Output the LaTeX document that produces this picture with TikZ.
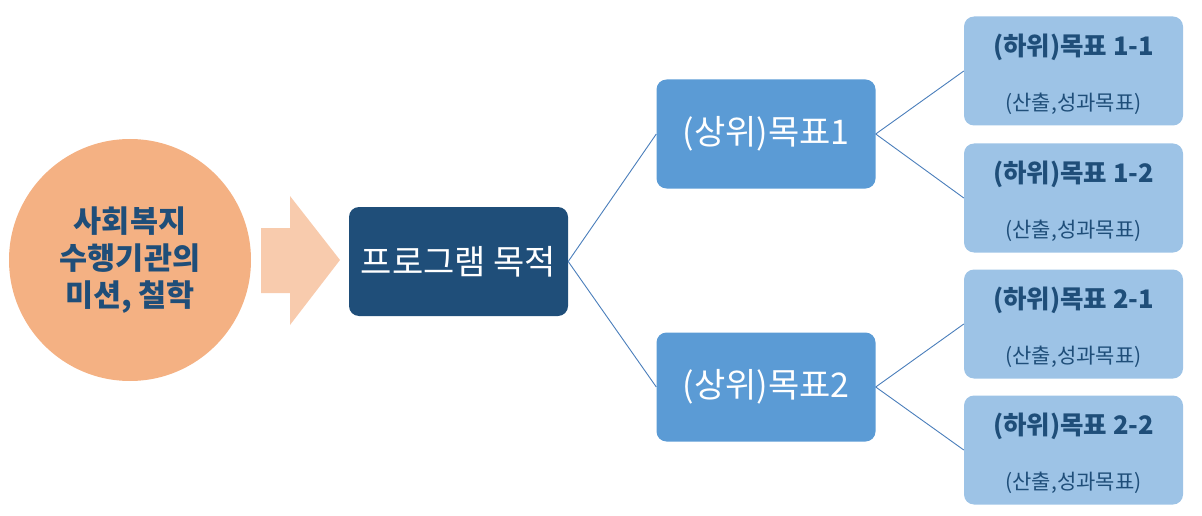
\documentclass[tikz,border=0pt]{standalone}
\usepackage{fontspec}
\setmainfont{Noto Sans CJK KR}
\definecolor{arancio}{HTML}{F4B183}
\definecolor{freccia}{HTML}{F8CBAD}
\definecolor{blu}{HTML}{1F4E79}
\definecolor{azzurro}{HTML}{5B9BD5}
\definecolor{celeste}{HTML}{9DC3E6}
\definecolor{filo}{HTML}{4A7EBB}
\tikzset{
  scatola/.style={rounded corners=10pt, minimum width=219pt, minimum height=109pt, inner sep=0pt},
  linea/.style={draw=filo, line width=0.9pt}
}
\begin{document}
\begin{tikzpicture}[x=1pt,y=-1pt]
    \useasboundingbox (0,0) rectangle (1202,516);
    %cerchio della missione
    \node[circle, fill=arancio, minimum size=242pt, inner sep=0pt, align=center,
          text=blu, font=\bfseries\fontsize{30.5}{37}\selectfont] (missione) at (130,260)
          {사회복지\\수행기관의\\미션, 철학};
    %freccia larga
    \fill[freccia] (261,228) -- (290,228) -- (290,196) -- (340,260)
        -- (290,325) -- (290,293) -- (261,293) -- cycle;
    %scopo del programma
    \node[scatola, fill=blu, text=white, font=\fontsize{34}{34}\selectfont] (scopo) at (458.5,261.5) {프로그램 목적};
    %obiettivi superiori
    \node[scatola, fill=azzurro, text=white, font=\fontsize{34}{34}\selectfont] (sup1) at (766,134) {(상위)목표1};
    \node[scatola, fill=azzurro, text=white, font=\fontsize{34}{34}\selectfont] (sup2) at (766,387) {(상위)목표2};
    %obiettivi inferiori
    \node[scatola, fill=celeste] (inf11) at (1073.5,71) {};
    \node[scatola, fill=celeste] (inf12) at (1073.5,198) {};
    \node[scatola, fill=celeste] (inf21) at (1073.5,324) {};
    \node[scatola, fill=celeste] (inf22) at (1073.5,450) {};
    \node[text=blu, font=\bfseries\fontsize{25.5}{25.5}\selectfont] (t11) at (1073.5,47) {(하위)목표 1-1};
    \node[text=blu, font=\fontsize{21}{21}\selectfont] (s11) at (1073.5,104) {(산출,성과목표)};
    \node[text=blu, font=\bfseries\fontsize{25.5}{25.5}\selectfont] (t12) at (1073.5,174) {(하위)목표 1-2};
    \node[text=blu, font=\fontsize{21}{21}\selectfont] (s12) at (1073.5,231) {(산출,성과목표)};
    \node[text=blu, font=\bfseries\fontsize{25.5}{25.5}\selectfont] (t21) at (1073.5,300) {(하위)목표 2-1};
    \node[text=blu, font=\fontsize{21}{21}\selectfont] (s21) at (1073.5,357) {(산출,성과목표)};
    \node[text=blu, font=\bfseries\fontsize{25.5}{25.5}\selectfont] (t22) at (1073.5,426) {(하위)목표 2-2};
    \node[text=blu, font=\fontsize{21}{21}\selectfont] (s22) at (1073.5,483) {(산출,성과목표)};
    %collegamenti
    \draw[linea] (scopo.east) -- (sup1.west);
    \draw[linea] (scopo.east) -- (sup2.west);
    \draw[linea] (sup1.east) -- (inf11.west);
    \draw[linea] (sup1.east) -- (inf12.west);
    \draw[linea] (sup2.east) -- (inf21.west);
    \draw[linea] (sup2.east) -- (inf22.west);
\end{tikzpicture}
\end{document}
